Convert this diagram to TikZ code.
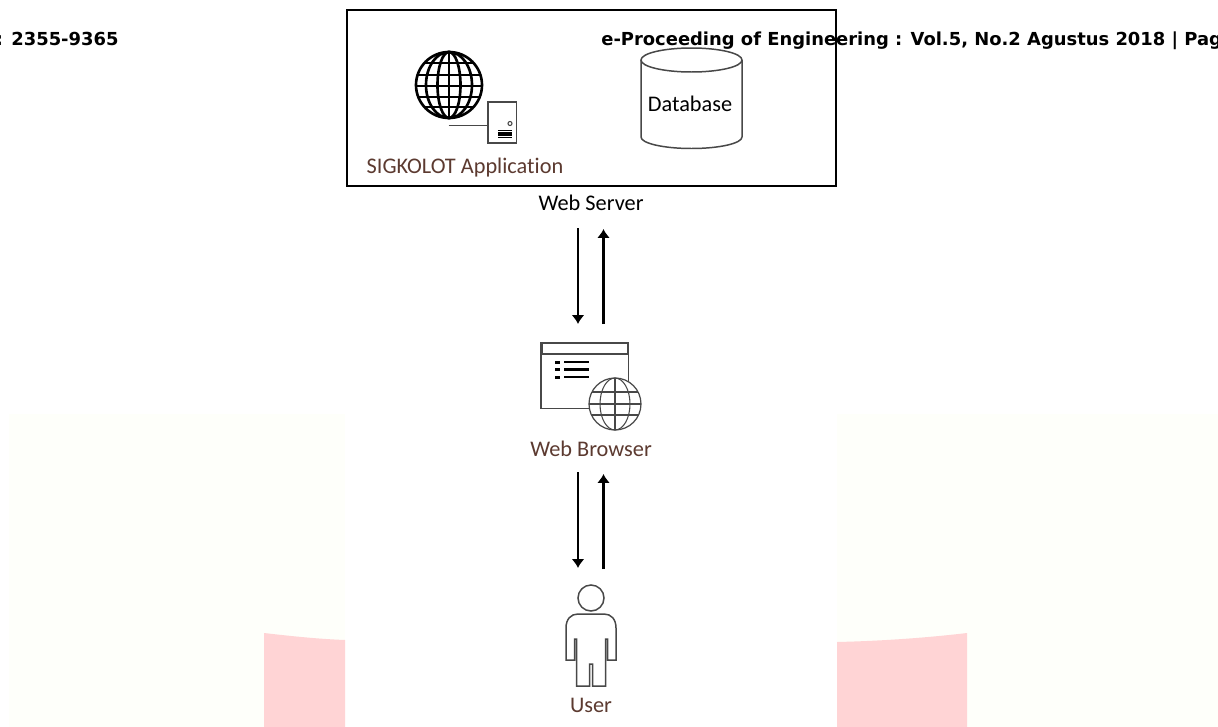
\documentclass[tikz,border=0pt]{standalone}
\usepackage{fontspec}
\setmainfont{Carlito}[Ligatures=NoCommon]
\newfontfamily\headfont{DejaVu Sans}
\usetikzlibrary{positioning,arrows.meta}
\definecolor{tintbg}{HTML}{FEFFFA}
\definecolor{tintpink}{HTML}{FFD4D5}
\definecolor{brownlbl}{HTML}{5C3A30}
\definecolor{linegray}{HTML}{484848}

\begin{document}
\begin{tikzpicture}[
x=0.02cm,y=-0.02cm,
flow/.style={
  line width=1.3pt,
  -{Latex[length=5pt,width=7.2pt]}},
icon/.style={
  draw=linegray,
  line width=0.85pt},
lbl/.style={
  font=\fontsize{12.7}{14}\selectfont,
  inner sep=0pt},
headtext/.style={
  anchor=base west,
  inner sep=0pt,
  font=\headfont\bfseries\fontsize{10.2}{12}\selectfont}
]
\useasboundingbox (0,0) rectangle (1218,727);
\fill[white] (0,0) rectangle (1218,727);
% page background
\fill[tintbg] (9,414) rectangle (345,727);
\fill[tintbg] (837,414) rectangle (1218,727);
\fill[tintpink] (264,727) -- (264,633) .. controls (290,636) and (318,639) .. (345,640) -- (345,727) -- cycle;
\fill[tintpink] (837,727) -- (837,642) .. controls (880,641) and (925,638) .. (967,633) -- (967,727) -- cycle;
% server box
\draw[line width=1.14pt] (347,10) rectangle (836,186);
% big globe
\begin{scope}
\clip (449,85) circle [radius=33];
\foreach \Lat in {63,75,86,97,107}
  \draw[line width=1.5pt] (410,\Lat) -- (490,\Lat);
\end{scope}
\draw[line width=1.5pt] (449,52) -- (449,118);
\foreach \Rx in {11.5,23}
  \draw[line width=1.5pt] (449,85) ellipse [x radius=\Rx,y radius=33];
\draw[line width=1.5pt] (449,85) circle [radius=33];
% server tower
\draw[icon] (488,102) rectangle (516.5,143);
\coordinate (wire) at (448.5,125.5);
\draw[icon] (wire) -- (488,125.5);
\draw[icon,line width=0.6pt] (510,123.5) circle [radius=2];
\foreach \Vy in {130.5,132.8,135.1,137.4}
  \draw[line width=0.85pt] (498,\Vy) -- (512,\Vy);
% database
\draw[icon] (641,60) -- (641,137) arc [start angle=180,end angle=0,x radius=50.5,y radius=11.5] -- (742,60);
\draw[icon] (691.5,60) ellipse [x radius=50.5,y radius=12];
\node[lbl] (db) at (690,104) {Database};
\node[lbl,text=brownlbl] (sigapp) at (465,168) {SIGKOLOT Application};
\node[lbl] (websrv) at (591,203) {Web Server};
% arrows
\coordinate (DnA) at (578,228);
\coordinate (DnB) at (578,324);
\coordinate (UpA) at (603.5,324);
\coordinate (UpB) at (603.5,229);
\coordinate (DnC) at (578,472);
\coordinate (DnD) at (578,568);
\coordinate (UpC) at (603.5,569);
\coordinate (UpD) at (603.5,474);
\draw[flow] (DnA) -- (DnB);
\draw[flow] (UpA) -- (UpB);
\draw[flow] (DnC) -- (DnD);
\draw[flow] (UpC) -- (UpD);
% browser window
\draw[icon] (541,342.5) rectangle (628.5,408.5);
\draw[icon,line width=1.2pt] (541.5,343) rectangle (628,354);
\foreach \Ly in {362,369.5,377} {
  \fill (554.5,\Ly-1.5) rectangle (559.5,\Ly+1.5);
  \draw[line width=1.4pt] (564,\Ly) -- (588.5,\Ly);
}
\fill[white] (615,404) circle [radius=26];
\begin{scope}
\clip (615,404) circle [radius=26];
\foreach \Lat in {392,404,415}
  \draw[draw=linegray,line width=0.6pt] (585,\Lat) -- (645,\Lat);
\end{scope}
\draw[draw=linegray,line width=0.6pt] (615,378) -- (615,430);
\draw[icon,line width=0.6pt] (615,404) ellipse [x radius=15,y radius=26];
\draw[icon,line width=0.7pt] (615,404) circle [radius=26];
\node[lbl,text=brownlbl] (webbrw) at (591,449) {Web Browser};
% user
\draw[icon] (591,598) circle [radius=13];
\draw[icon] (566,628) .. controls (566,619) and (571,614) .. (578,614) -- (604,614) .. controls (611,614) and (616,619) .. (616,628) -- (616,660) -- (607.5,660) -- (607.5,639) -- (605.5,639) -- (605.5,686) -- (592.5,686) -- (592.5,664) -- (589.5,664) -- (589.5,686) -- (576.5,686) -- (576.5,639) -- (574.5,639) -- (574.5,660) -- (566,660) -- cycle;
\node[lbl,text=brownlbl] (userlbl) at (591,705) {User};
% page header
\node[headtext] (issn) at (-4.5,45.5) {: 2355-9365};
\node[headtext] (jrnl) at (601,45.5) {e-Proceeding of Engineering : Vol.5, No.2 Agustus 2018 | Pag};
\end{tikzpicture}
\end{document}
